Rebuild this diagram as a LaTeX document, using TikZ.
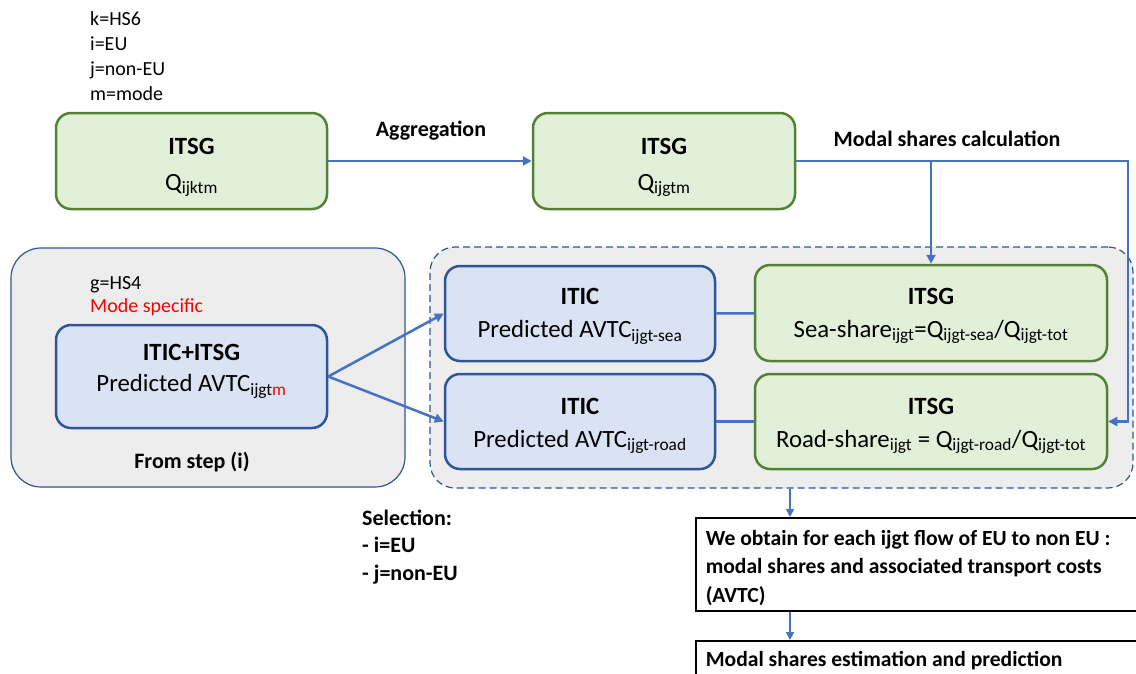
\documentclass[tikz,border=0pt]{standalone}
\usepackage{fontspec}
\setmainfont{Carlito}
\usetikzlibrary{arrows.meta}
\definecolor{greenlight}{RGB}{226, 240, 217}
\definecolor{greendark}{RGB}{84, 130, 53}
\definecolor{bluelight}{RGB}{218, 227, 243}
\definecolor{bluedark}{RGB}{47, 85, 151}
\definecolor{greybg}{RGB}{237, 237, 237}
\definecolor{flow}{RGB}{68, 114, 196}
% pushes the first line of a node down
\newcommand{\lift}[1]{\rule{0pt}{#1pt}}

\begin{document}
\begin{tikzpicture}[x=1pt, y=-1pt,
    box/.style={rounded corners=15pt, line width=2.5pt, align=center, inner sep=0pt,
                font=\fontsize{24.8}{33}\selectfont},
    itsg/.style={box, fill=greenlight, draw=greendark},
    itic/.style={box, fill=bluelight, draw=bluedark},
    frame/.style={draw=bluedark, line width=1.2pt, fill=greybg, inner sep=0pt},
    link/.style={draw=flow, line width=2.5pt},
    arrow/.style={link, -{Triangle[length=9pt, width=9pt]}},
    thinarrow/.style={draw=flow, line width=1.6pt, -{Triangle[length=8pt, width=8pt]}},
    result/.style={draw=black, line width=1.5pt, fill=white, anchor=north west,
                   align=flush left, inner xsep=10pt, inner ysep=0pt, text width=540pt,
                   font=\bfseries\fontsize{21.6}{28.5}\selectfont},
    note/.style={anchor=west, align=left, inner sep=0pt, font=\fontsize{20}{25}\selectfont},
    caption/.style={inner sep=0pt, font=\bfseries\fontsize{22}{28}\selectfont}]

  \useasboundingbox (0, 0) rectangle (1136, 673);

  % containers
  \node[frame, rounded corners=30pt, minimum width=394pt, minimum height=239pt]
    (stepi) at (208, 367.5) {};
  \node[frame, dash pattern=on 7pt off 4pt, rounded corners=25pt,
        minimum width=703pt, minimum height=241pt] (shares) at (781.5, 367.5) {};

  % top row
  \node[note] (dims) at (90, 56) {k=HS6\\i=EU\\j=non-EU\\m=mode};
  \node[itsg, minimum width=271pt, minimum height=96pt, font=\fontsize{24.8}{36}\selectfont]
    (itsga) at (191.5, 161) {\lift{29}\textbf{ITSG}\\Q\textsubscript{ijktm}};
  \node[itsg, minimum width=262pt, minimum height=96pt, font=\fontsize{24.8}{36}\selectfont]
    (itsgb) at (664, 161) {\lift{29}\textbf{ITSG}\\Q\textsubscript{ijgtm}};
  \node[caption] (aggr) at (431, 131) {Aggregation};
  \node[caption] (calc) at (947, 139) {Modal shares calculation};

  % step (i)
  \node[note, font=\fontsize{20}{23}\selectfont] (hs) at (90, 296)
    {g=HS4\\\textcolor{red}{Mode specific}};
  \node[itic, minimum width=271pt, minimum height=103pt,
        font=\fontsize{24.8}{31}\selectfont] (pred) at (191.5, 376.5)
    {\textbf{ITIC+ITSG}\\Predicted AVTC\textsubscript{ijgt\textcolor{red}{m}}\rule[-17pt]{0pt}{0pt}};
  \node[caption] (from) at (192, 462) {From step (i)};

  % mode boxes
  \node[itic, minimum width=270pt, minimum height=95pt] (iticsea) at (580, 313.5)
    {\lift{22}\textbf{ITIC}\\Predicted AVTC\textsubscript{ijgt-sea}};
  \node[itic, minimum width=270pt, minimum height=95pt] (iticroad) at (580, 421.5)
    {\lift{25}\textbf{ITIC}\\Predicted AVTC\textsubscript{ijgt-road}};
  \node[itsg, minimum width=352pt, minimum height=96pt] (itsgsea) at (931, 313)
    {\lift{22}\textbf{ITSG}\\Sea-share\textsubscript{ijgt}=Q\textsubscript{ijgt-sea}/Q\textsubscript{ijgt-tot}};
  \node[itsg, minimum width=352pt, minimum height=95pt] (itsgroad) at (931, 421.5)
    {\lift{25}\textbf{ITSG}\\Road-share\textsubscript{ijgt} = Q\textsubscript{ijgt-road}/Q\textsubscript{ijgt-tot}};

  % bottom
  \node[caption, anchor=west, align=left, font=\bfseries\fontsize{22}{27.5}\selectfont]
    (sel) at (362, 547) {Selection:\\- i=EU\\- j=non-EU};
  \node[result, minimum height=93pt] (obtain) at (695, 517)
    {\lift{22}We obtain for each ijgt flow of EU to non EU :\\modal shares and associated transport costs\\(AVTC)};
  \node[result, minimum height=40pt] (estim) at (695, 640)
    {Modal shares estimation and prediction};

  % connectors
  \coordinate (turn) at (1128, 161);
  \coordinate (drop) at (790, 0);
  \draw[arrow] (itsga) -- (itsgb);
  \draw[arrow] (itsgb.east) -- (turn) |- (itsgroad.east);
  \draw[arrow] (itsgb.east -| itsgsea.north) -- (itsgsea.north);
  \draw[arrow] (pred.east) -- (iticsea.west);
  \draw[arrow] (pred.east) -- (iticroad.west);
  \draw[link] (iticsea) -- (itsgsea);
  \draw[link] (iticroad) -- (itsgroad);
  \draw[thinarrow] (shares.south -| drop) -- (obtain.north -| drop);
  \draw[thinarrow] (obtain.south -| drop) -- (estim.north -| drop);

\end{tikzpicture}
\end{document}
